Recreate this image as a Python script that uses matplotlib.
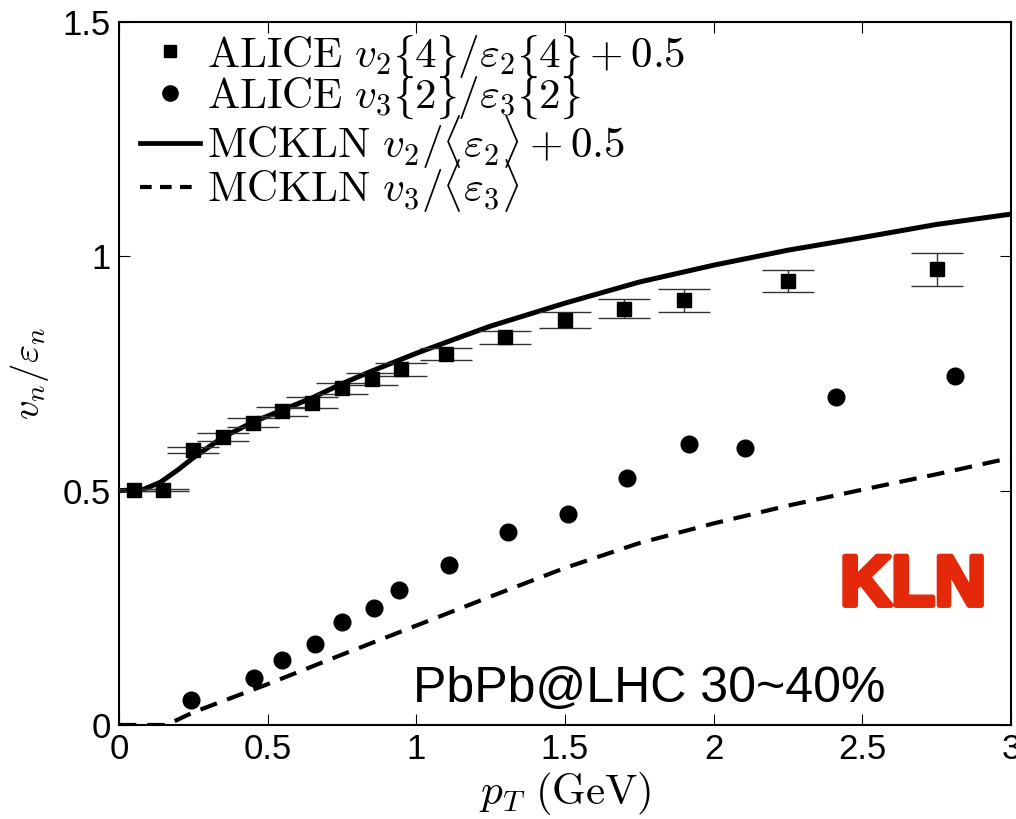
import matplotlib
matplotlib.use("Agg")
import matplotlib.pyplot as plt
from matplotlib.lines import Line2D
import matplotlib.patheffects as pe

plt.rcParams['mathtext.fontset'] = 'cm'
plt.rcParams['font.family'] = ['Liberation Sans', 'DejaVu Sans']

# ALICE v2{4}/eps2{4} + 0.5
v2_pt = [0.05, 0.15, 0.25, 0.35, 0.45, 0.55, 0.65, 0.75, 0.85, 0.95, 1.1, 1.3, 1.5, 1.7, 1.9, 2.25, 2.75]
v2_val = [0.501, 0.501, 0.587, 0.615, 0.645, 0.669, 0.688, 0.718, 0.739, 0.759, 0.791, 0.827, 0.864, 0.888, 0.906, 0.947, 0.972]
v2_err = [0.002, 0.002, 0.007, 0.009, 0.009, 0.009, 0.011, 0.012, 0.013, 0.014, 0.0125, 0.014, 0.017, 0.020, 0.025, 0.023, 0.036]

# ALICE v3{2}/eps3{2}
v3_pt = [0.242, 0.456, 0.548, 0.661, 0.752, 0.859, 0.943, 1.11, 1.308, 1.512, 1.71, 1.917, 2.107, 2.411, 2.813]
v3_val = [0.053, 0.101, 0.139, 0.173, 0.220, 0.249, 0.287, 0.341, 0.412, 0.450, 0.528, 0.600, 0.590, 0.700, 0.744]

# MCKLN v2/<eps2> + 0.5
th2_pt = [0.0, 0.08, 0.14, 0.2, 0.25, 0.35, 0.45, 0.55, 0.65, 0.75, 0.85, 1.0, 1.15, 1.25, 1.5, 1.75, 2.0, 2.25, 2.5, 2.75, 3.0]
th2_val = [0.50, 0.502, 0.518, 0.545, 0.570, 0.614, 0.646, 0.672, 0.698, 0.728, 0.755, 0.793, 0.828, 0.851, 0.900, 0.945, 0.981, 1.013, 1.040, 1.068, 1.090]

# MCKLN v3/<eps3>
th3_pt = [0.0, 0.16, 0.25, 0.5, 0.75, 1.0, 1.25, 1.5, 1.75, 2.0, 2.25, 2.5, 2.75, 3.0]
th3_val = [0.0, 0.0, 0.027, 0.087, 0.150, 0.212, 0.274, 0.335, 0.388, 0.430, 0.468, 0.502, 0.535, 0.570]

xticks = [0, 0.5, 1, 1.5, 2, 2.5, 3]
xticklabels = ['0', '0.5', '1', '1.5', '2', '2.5', '3']
yticks = [0, 0.5, 1, 1.5]
yticklabels = ['0', '0.5', '1', '1.5']

fig = plt.figure(figsize=(10.16, 8.19), dpi=100)
ax = fig.add_axes([0.117, 0.1148, 0.878, 0.8584])

ax.plot(th2_pt, th2_val, color='k', lw=3.6, solid_capstyle='butt', zorder=3)
ax.plot(th3_pt, th3_val, color='k', lw=3.0, dashes=(4.2, 2.6), zorder=3)

ax.errorbar(v2_pt, v2_val, yerr=v2_err, fmt='s', color='k', ms=9.5,
            ecolor='#333333', elinewidth=1.0, capsize=19, capthick=1.0, zorder=4)
ax.plot(v3_pt, v3_val, 'o', color='k', ms=12, zorder=4)

ax.set_xlim(0, 3)
ax.set_ylim(0, 1.5)
ax.set_xticks(xticks)
ax.set_xticklabels(xticklabels)
ax.set_yticks(yticks)
ax.set_yticklabels(yticklabels)
ax.tick_params(direction='in', length=8, width=0.8, top=True, right=True, labelsize=25, pad=6)
for s in ax.spines.values():
    s.set_linewidth(1.5)

ax.set_xlabel(r'$p_T\ (\mathrm{GeV})$', fontsize=31, labelpad=3)
ax.set_ylabel(r'$v_n\mathrm{/}\varepsilon_n$', fontsize=28, labelpad=8)

handles = [
    Line2D([], [], marker='s', color='k', ls='none', ms=8.5),
    Line2D([], [], marker='o', color='k', ls='none', ms=11),
    Line2D([], [], color='k', lw=3.4),
    Line2D([], [], color='k', lw=3.0, dashes=(2.8, 2.0)),
]
labels = [
    r'$\mathrm{ALICE}\ v_2\lbrace 4\rbrace\mathrm{/}\varepsilon_2\lbrace 4\rbrace+0.5$',
    r'$\mathrm{ALICE}\ v_3\lbrace 2\rbrace\mathrm{/}\varepsilon_3\lbrace 2\rbrace$',
    r'$\mathrm{MCKLN}\ v_2\mathrm{/}\langle\varepsilon_2\rangle+0.5$',
    r'$\mathrm{MCKLN}\ v_3\mathrm{/}\langle\varepsilon_3\rangle$',
]
row_y = [0.951, 0.892, 0.829, 0.767]
for i, (h, lab, yy) in enumerate(zip(handles, labels, row_y)):
    leg = ax.legend([h], [lab], loc='center left', bbox_to_anchor=(0.0235, yy), frameon=False,
                    fontsize=31, handlelength=1.4, handletextpad=0.15,
                    borderaxespad=0.0, borderpad=0.0)
    if i < len(labels) - 1:
        ax.add_artist(leg)

ax.text(0.972, 0.196, 'KLN', transform=ax.transAxes, ha='right', va='center',
        fontsize=51, fontweight='bold', color='#E3290A',
        path_effects=[pe.withStroke(linewidth=4, foreground='#E3290A')])
ax.text(0.859, 0.051, 'PbPb@LHC 30~40%', transform=ax.transAxes, ha='right', va='center',
        fontsize=36, color='k')

fig.savefig('out.png', dpi=100)
